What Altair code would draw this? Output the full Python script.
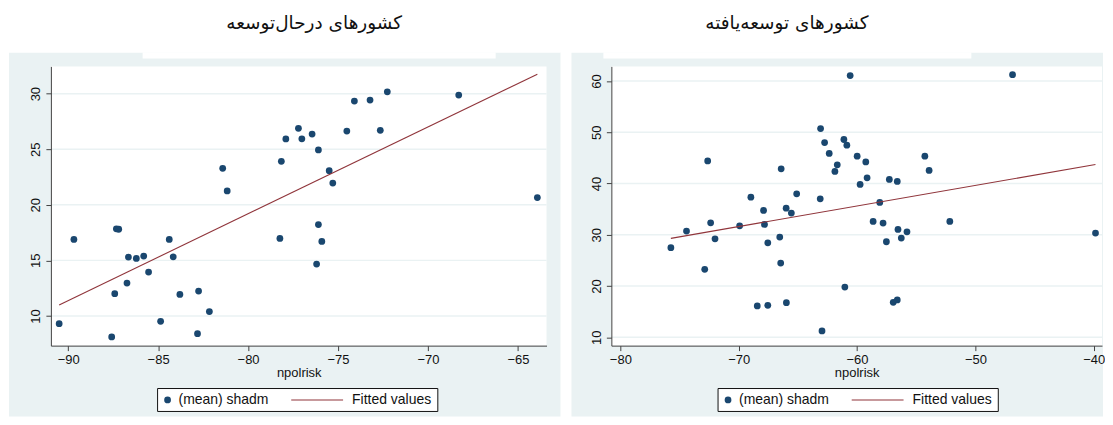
import altair as alt
import pandas as pd

# ---- data: developing countries (left panel) ----
dev_x = [-90.5, -89.68, -87.58, -87.41, -87.32, -87.19, -86.73, -86.65, -86.21, -85.8,
         -85.53, -84.86, -84.38, -84.16, -83.79, -82.75, -82.81, -82.15, -81.41, -81.16,
         -78.23, -78.15, -77.9, -77.2, -77.01, -76.44, -76.09, -76.09, -75.9, -76.19,
         -75.49, -75.29, -74.51, -74.09, -73.22, -72.65, -72.26, -68.29, -63.92]
dev_y = [9.31, 16.88, 8.11, 12.0, 17.84, 17.8, 12.96, 15.3, 15.17, 15.39,
         13.95, 9.52, 16.88, 15.32, 11.94, 12.24, 8.41, 10.39, 23.28, 21.25,
         16.97, 23.91, 25.92, 26.88, 25.94, 26.36, 24.93, 18.22, 16.7, 14.67,
         23.07, 21.96, 26.63, 29.33, 29.42, 26.7, 30.16, 29.87, 20.65]
dev_fit_x = [-90.5, -63.92]
dev_fit_y = [10.99, 31.75]

# ---- data: developed countries (right panel) ----
ind_x = [-75.73, -74.41, -72.87, -72.62, -72.37, -72.0, -69.92, -68.97, -68.43, -67.9,
         -67.82, -67.54, -67.54, -66.41, -66.53, -66.45, -65.99, -65.97, -65.55, -65.1,
         -63.11, -63.08, -62.96, -62.74, -62.35, -61.67, -61.87, -61.11, -60.86, -61.03,
         -60.58, -59.99, -59.26, -59.15, -59.74, -58.08, -58.64, -57.8, -57.27, -57.52,
         -56.6, -56.54, -56.26, -55.78, -56.94, -56.6, -54.27, -53.91, -52.16, -46.86,
         -39.85]
ind_y = [27.47, 30.72, 23.26, 44.42, 32.34, 29.22, 31.75, 37.35, 16.1, 34.76,
         32.03, 28.44, 16.24, 42.87, 29.55, 24.48, 35.2, 16.75, 34.23, 37.99,
         37.02, 50.74, 11.23, 48.01, 45.87, 43.65, 42.36, 48.6, 47.49, 19.8,
         61.07, 45.34, 44.23, 41.11, 39.82, 36.32, 32.61, 32.28, 40.8, 28.64,
         40.41, 31.05, 29.36, 30.58, 16.82, 17.27, 45.34, 42.55, 32.61, 61.26,
         30.33]
ind_fit_x = [-75.73, -39.85]
ind_fit_y = [29.3, 43.72]

dev_xticks = [-90, -85, -80, -75, -70, -65]
dev_yticks = [10, 15, 20, 25, 30]
ind_xticks = [-80, -70, -60, -50, -40]
ind_yticks = [10, 20, 30, 40, 50, 60]

title_dev = "کشورهای درحال\u200cتوسعه"
title_ind = "کشورهای توسعه\u200cیافته"
x_title = "npolrisk"
legend_pt = "(mean) shadm"
legend_fit = "Fitted values"

PANEL = "#eaf2f3"
NAVY = "#1a476f"
MAROON = "#90353b"
FONT = "Liberation Sans"


def panel(xs, ys, fx, fy, xdom, ydom, xticks, yticks, width, title, title_x,
          left_ext, right_ext, notch):
    height = 280
    pts = pd.DataFrame({"x": xs, "y": ys})
    fit = pd.DataFrame({"x": fx, "y": fy})
    grid = pd.DataFrame({"y": yticks})
    one = pd.DataFrame({"d": [0]})

    xsc = alt.Scale(domain=xdom, nice=False, zero=False)
    ysc = alt.Scale(domain=ydom, nice=False, zero=False)

    xax = alt.Axis(values=xticks, grid=False, domainColor="#404040", tickColor="#404040",
                   tickSize=5, labelFont=FONT, labelFontSize=13, labelColor="#111",
                   labelPadding=3, title=x_title, titleFont=FONT, titleFontSize=13,
                   titleFontWeight="normal", titleColor="#111", titlePadding=0,
                   titleAnchor="middle", labelFlush=False, zindex=2)
    yax = alt.Axis(values=yticks, grid=False,
                   domainColor="#404040", tickColor="#404040", tickSize=5,
                   labelFont=FONT, labelFontSize=13, labelColor="#111", labelAngle=270,
                   labelAlign="center", labelBaseline="bottom", labelPadding=3,
                   title=None, labelFlush=False, zindex=2)

    # background: gray panel, white title band, white notch
    bg = alt.Chart(one).mark_rect(color=PANEL).encode(
        x=alt.value(left_ext), x2=alt.value(width + right_ext),
        y=alt.value(-14), y2=alt.value(351))
    top = alt.Chart(one).mark_rect(color="white").encode(
        x=alt.value(left_ext - 1), x2=alt.value(width + right_ext),
        y=alt.value(-58), y2=alt.value(-14))
    nt = alt.Chart(one).mark_rect(color="white").encode(
        x=alt.value(notch[0]), x2=alt.value(notch[1]),
        y=alt.value(-14), y2=alt.value(-8))
    plotbg = alt.Chart(one).mark_rect(color="white").encode(
        x=alt.value(0), x2=alt.value(width), y=alt.value(0), y2=alt.value(height))
    gridl = alt.Chart(grid).mark_rule(color=PANEL, strokeWidth=1.5).encode(
        y=alt.Y("y:Q", scale=ysc), x=alt.value(0), x2=alt.value(width))

    points = alt.Chart(pts).mark_circle(size=46, color=NAVY, opacity=1).encode(
        x=alt.X("x:Q", scale=xsc, axis=xax),
        y=alt.Y("y:Q", scale=ysc, axis=yax))
    line = alt.Chart(fit).mark_line(color=MAROON, strokeWidth=1.1).encode(
        x=alt.X("x:Q", scale=xsc), y=alt.Y("y:Q", scale=ysc))

    # legend
    lbox = alt.Chart(one).mark_rect(fill="white", stroke="#111", strokeWidth=1).encode(
        x=alt.value(107), x2=alt.value(388), y=alt.value(323), y2=alt.value(346))
    ldot = alt.Chart(one).mark_circle(size=46, color=NAVY, opacity=1).encode(
        x=alt.value(117), y=alt.value(334.5))
    ltxt1 = alt.Chart(one).mark_text(text=legend_pt, font=FONT, fontSize=14, align="left",
                                     baseline="middle", color="#111").encode(
        x=alt.value(128), y=alt.value(335))
    lline = alt.Chart(one).mark_rule(color=MAROON, strokeWidth=1.1).encode(
        x=alt.value(241), x2=alt.value(293), y=alt.value(334.5))
    ltxt2 = alt.Chart(one).mark_text(text=legend_fit, font=FONT, fontSize=14, align="left",
                                     baseline="middle", color="#111").encode(
        x=alt.value(302), y=alt.value(335))
    ttl = alt.Chart(one).mark_text(text=title, font="DejaVu Sans", fontSize=18.5,
                                   align="center", baseline="middle", color="#111").encode(
        x=alt.value(title_x), y=alt.value(-44))

    return alt.layer(bg, top, nt, plotbg, gridl, points, line, lbox, ldot, ltxt1, lline,
                     ltxt2, ttl).properties(width=width, height=height)


left = panel(dev_x, dev_y, dev_fit_x, dev_fit_y, [-90.96, -63.41], [7.33, 32.45],
             dev_xticks, dev_yticks, 497, title_dev, 264, -42, 14, (92, 446))
right = panel(ind_x, ind_y, ind_fit_x, ind_fit_y, [-80.76, -39.3], [8.36, 62.87],
              ind_xticks, ind_yticks, 492, title_ind, 176, -40, 1, (-8, 361))

chart = alt.hconcat(left, right, spacing=10).properties(
    padding=0, background="white"
).configure_view(stroke=None, fill=None)

chart.save("out.html", embed_options={"renderer": "svg", "actions": False})
